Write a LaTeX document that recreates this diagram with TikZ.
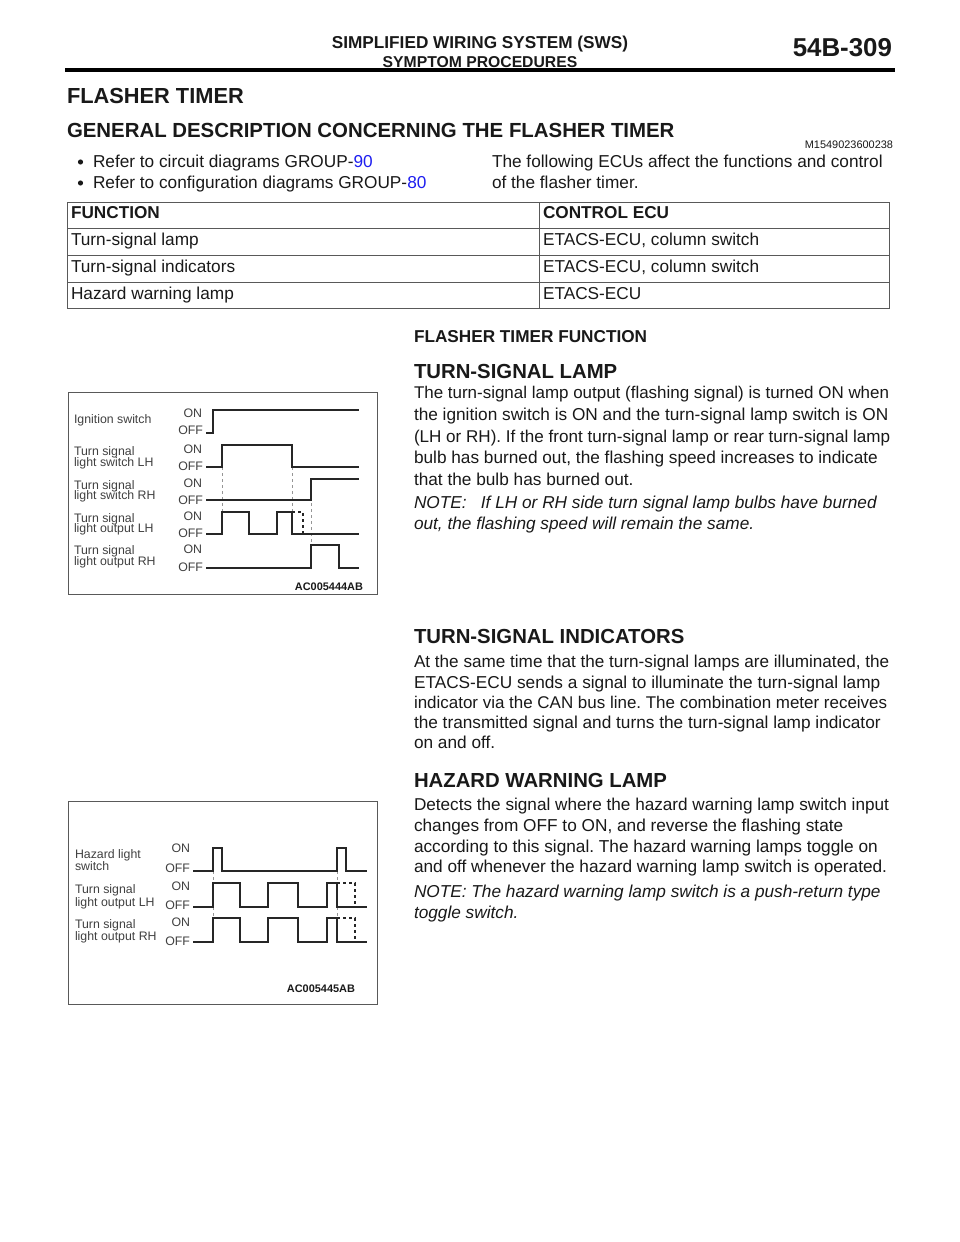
\documentclass[tikz,border=0pt]{standalone}
\usepackage{fontspec}
\setmainfont{Liberation Sans}
\frenchspacing
\definecolor{linkblue}{RGB}{30,30,240}
\definecolor{ink}{RGB}{25,25,25}
\definecolor{guide}{RGB}{150,150,150}
\newcommand{\fs}[1]{\fontsize{#1pt}{#1pt}\selectfont}
\tikzset{
  x=0.75pt,y=-0.75pt,
  txt/.style={anchor=base west,inner sep=0pt,outer sep=0pt,text=ink,font=\fs{12.93}},
  bodyit/.style={txt,font=\fs{12.93}\itshape},
  head/.style={txt,font=\fs{15.25}\bfseries},
  sub/.style={txt,font=\fs{12.9}\bfseries},
  lab/.style={txt,text=black!75,font=\fs{9.25}},
  onoff/.style={lab,anchor=base east},
  code/.style={txt,font=\fs{8.2}\bfseries},
  wave/.style={line width=1pt,black!85},
  dwave/.style={line width=0.9pt,black!85,dash pattern=on 2.5pt off 2pt},
  guideline/.style={line width=0.5pt,guide,dash pattern=on 2.5pt off 2pt},
  frame/.style={line width=0.7pt,black!65},
  tab/.style={line width=0.7pt,black!65},
}
\begin{document}
\begin{tikzpicture}
\useasboundingbox (0,0) rectangle (960,1242);
\fill[white] (0,0) rectangle (960,1242);
% header
\node[txt,anchor=base,font=\fs{12.9}\bfseries] (h1) at (480,48.5) {SIMPLIFIED WIRING SYSTEM (SWS)};
\node[txt,anchor=base,font=\fs{11.8}\bfseries] (h2) at (480,67) {SYMPTOM PROCEDURES};
\node[txt,anchor=base east,font=\fs{19.4}\bfseries] (h3) at (892,56) {54B-309};
\draw[line width=2.6pt,black] (65,70) -- (895,70);
\node[txt,font=\fs{16.35}\bfseries] (t1) at (67,103) {FLASHER TIMER};
\node[head,font=\fs{15.3}\bfseries] (t2) at (67,137) {GENERAL DESCRIPTION CONCERNING THE FLASHER TIMER};
\node[txt,anchor=base east,font=\fs{8.2}] (mc) at (893,148) {M1549023600238};
% bullets
\fill[ink] (80.5,162) circle (2.6);
\fill[ink] (80.5,183) circle (2.6);
\node[txt] (b1) at (93,167) {Refer to circuit diagrams GROUP-\textcolor{linkblue}{90}};
\node[txt] (b2) at (93,188) {Refer to configuration diagrams GROUP-\textcolor{linkblue}{80}};
\node[txt] (r1) at (492,167) {The following ECUs affect the functions and control};
\node[txt] (r2) at (492,188) {of the flasher timer.};
% table
\draw[tab] (67,202) rectangle (889,308);
\draw[tab] (67,228) -- (889,228) (67,255) -- (889,255) (67,282) -- (889,282) (539,202) -- (539,308);
\node[sub] (c1) at (71,218) {FUNCTION};
\node[sub] (c2) at (543,218) {CONTROL ECU};
\node[txt] (c3) at (71,245) {Turn-signal lamp};
\node[txt] (c4) at (543,245) {ETACS-ECU, column switch};
\node[txt] (c5) at (71,272) {Turn-signal indicators};
\node[txt] (c6) at (543,272) {ETACS-ECU, column switch};
\node[txt] (c7) at (71,299) {Hazard warning lamp};
\node[txt] (c8) at (543,299) {ETACS-ECU};
% right column
\node[sub] (f0) at (414,342) {FLASHER TIMER FUNCTION};
\node[head] (s1) at (414,378.5) {TURN-SIGNAL LAMP};
\node[txt,font=\fs{12.72}] (l1) at (414,398) {The turn-signal lamp output (flashing signal) is turned ON when};
\node[txt] (l2) at (414,420) {the ignition switch is ON and the turn-signal lamp switch is ON};
\node[txt,font=\fs{12.8}] (l3) at (414,442) {(LH or RH). If the front turn-signal lamp or rear turn-signal lamp};
\node[txt] (l4) at (414,463) {bulb has burned out, the flashing speed increases to indicate};
\node[txt] (l5) at (414,485) {that the bulb has burned out.};
\node[bodyit] (n1) at (414,508) {NOTE:\hspace{0.55em} If LH or RH side turn signal lamp bulbs have burned};
\node[bodyit] (n2) at (414,529) {out, the flashing speed will remain the same.};
\node[head] (s2) at (414,643.5) {TURN-SIGNAL INDICATORS};
\node[txt,font=\fs{12.85}] (i1) at (414,667) {At the same time that the turn-signal lamps are illuminated, the};
\node[txt] (i2) at (414,688) {ETACS-ECU sends a signal to illuminate the turn-signal lamp};
\node[txt,font=\fs{12.72}] (i3) at (414,708.5) {indicator via the CAN bus line. The combination meter receives};
\node[txt] (i4) at (414,728) {the transmitted signal and turns the turn-signal lamp indicator};
\node[txt] (i5) at (414,748) {on and off.};
\node[head] (s3) at (414,787.5) {HAZARD WARNING LAMP};
\node[txt,font=\fs{12.87}] (z1) at (414,810.5) {Detects the signal where the hazard warning lamp switch input};
\node[txt] (z2) at (414,831.5) {changes from OFF to ON, and reverse the flashing state};
\node[txt] (z3) at (414,852) {according to this signal. The hazard warning lamps toggle on};
\node[txt] (z4) at (414,872) {and off whenever the hazard warning lamp switch is operated.};
\node[bodyit] (z5) at (414,897) {NOTE: The hazard warning lamp switch is a push-return type};
\node[bodyit] (z6) at (414,918) {toggle switch.};
% diagram 1
\draw[frame] (68,392) rectangle (377,594);
\node[lab] (a1) at (74,423) {Ignition switch};
\node[lab] (a2) at (74,455) {Turn signal};
\node[lab] (a3) at (74,466) {light switch LH};
\node[lab] (a4) at (74,489) {Turn signal};
\node[lab] (a5) at (74,499) {light switch RH};
\node[lab] (a6) at (74,522) {Turn signal};
\node[lab] (a7) at (74,532) {light output LH};
\node[lab] (a8) at (74,554) {Turn signal};
\node[lab] (a9) at (74,565) {light output RH};
\node[onoff] (o1) at (202,417) {ON};
\node[onoff] (o2) at (203,434) {OFF};
\node[onoff] (o3) at (202,453) {ON};
\node[onoff] (o4) at (203,470) {OFF};
\node[onoff] (o5) at (202,487) {ON};
\node[onoff] (o6) at (203,504) {OFF};
\node[onoff] (o7) at (202,520) {ON};
\node[onoff] (o8) at (203,537) {OFF};
\node[onoff] (o9) at (202,553) {ON};
\node[onoff] (o10) at (203,571) {OFF};
\draw[guideline] (222,467) -- (222,512) (292,467) -- (292,512) (311,479) -- (311,545);
\draw[wave] (206,433) -- (213,433) -- (213,410) -- (359,410);
\draw[wave] (206,467) -- (222,467) -- (222,445) -- (292,445) -- (292,467) -- (359,467);
\draw[wave] (206,500) -- (311,500) -- (311,479) -- (359,479);
\draw[wave] (206,534) -- (222,534) -- (222,512) -- (249,512) -- (249,534) -- (277,534) -- (277,512) -- (292,512) -- (292,534) -- (359,534);
\draw[dwave] (292,512) -- (303,512) -- (303,534);
\draw[wave] (206,568) -- (311,568) -- (311,545) -- (339,545) -- (339,568) -- (359,568);
\node[code,anchor=base east] (ca) at (363,590) {AC005444AB};
% diagram 2
\draw[frame] (68,801) rectangle (377,1004);
\node[lab] (d1) at (75,858) {Hazard light};
\node[lab] (d2) at (75,870) {switch};
\node[lab] (d3) at (75,893) {Turn signal};
\node[lab] (d4) at (75,906) {light output LH};
\node[lab] (d5) at (75,928) {Turn signal};
\node[lab] (d6) at (75,940) {light output RH};
\node[onoff] (e1) at (190,852) {ON};
\node[onoff] (e2) at (190,872) {OFF};
\node[onoff] (e3) at (190,890) {ON};
\node[onoff] (e4) at (190,909) {OFF};
\node[onoff] (e5) at (190,926) {ON};
\node[onoff] (e6) at (190,945) {OFF};
\draw[guideline] (213,871) -- (213,918) (337,871) -- (337,918);
\draw[wave] (193,871) -- (213,871) -- (213,848) -- (222,848) -- (222,871) -- (337,871) -- (337,848) -- (346,848) -- (346,871) -- (367,871);
\draw[wave] (193,907) -- (213,907) -- (213,883) -- (240,883) -- (240,907) -- (268,907) -- (268,883) -- (298,883) -- (298,907) -- (327,907) -- (327,883) -- (337,883) -- (337,907) -- (367,907);
\draw[dwave] (337,883) -- (355,883) -- (355,907);
\draw[wave] (193,942) -- (213,942) -- (213,918) -- (240,918) -- (240,942) -- (268,942) -- (268,918) -- (298,918) -- (298,942) -- (327,942) -- (327,918) -- (337,918) -- (337,942) -- (367,942);
\draw[dwave] (337,918) -- (355,918) -- (355,942);
\node[code,anchor=base east] (cb) at (355,992) {AC005445AB};
\end{tikzpicture}
\end{document}
